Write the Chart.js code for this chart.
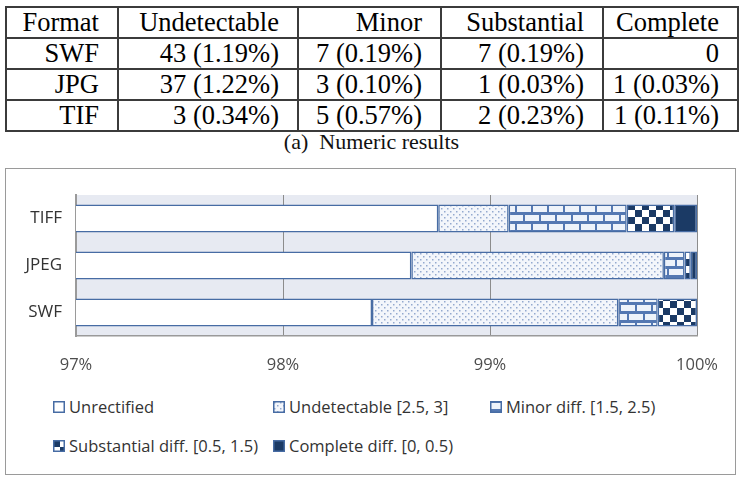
<!DOCTYPE html>
<html>
<head>
<meta charset="utf-8">
<script src="https://cdn.jsdelivr.net/npm/chart.js"></script>
<style>
body { margin: 0; background: #fff; width: 743px; height: 490px; position: relative; overflow: hidden; }
table { position: absolute; left: 5px; top: 6px; width: 732px; border-collapse: collapse; table-layout: fixed;
        font-family: "Liberation Serif", serif; font-size: 26.5px; color: #000; }
td { border: 2px solid #3b3b3b; text-align: right; padding: 0 18px 0 0; height: 29px; line-height: 29px; white-space: nowrap; }
#cap { position: absolute; left: 0; width: 743px; top: 129px; text-align: center;
       font-family: "Liberation Serif", serif; font-size: 22px; color: #111; }
#box { position: absolute; left: 5px; top: 168px; width: 729px; height: 305px; border: 1.5px solid #9a9a9a; }
#wrap { position: absolute; left: 5px; top: 168px; width: 732px; height: 215px; }
.lg { position: absolute; font-family: "Open Sans", sans-serif; font-size: 16.5px; color: #333; white-space: nowrap; line-height: 22px; }
.lg canvas { position: absolute; left: 0; top: 5px; }
.lg span { position: absolute; left: 16px; top: 0; }
</style>
</head>
<body>
<table id="tbl"></table>
<div id="cap">(a)&nbsp; Numeric results</div>
<div id="box"></div>
<div id="wrap"><canvas id="c"></canvas></div>
<div id="legend"></div>
<script>
// table (a)
const tableHeader = ['Format', 'Undetectable', 'Minor', 'Substantial', 'Complete'];
const tableRows = [
    ['SWF', '43 (1.19%)', '7 (0.19%)', '7 (0.19%)', '0'],
    ['JPG', '37 (1.22%)', '3 (0.10%)', '1 (0.03%)', '1 (0.03%)'],
    ['TIF', '3 (0.34%)', '5 (0.57%)', '2 (0.23%)', '1 (0.11%)']
];
const colWidths = [112, 180, 143, 162, 135];

// chart (b)
const categories = ['TIFF', 'JPEG', 'SWF'];
const seriesNames = ['Unrectified', 'Undetectable [2.5, 3]', 'Minor diff. [1.5, 2.5)', 'Substantial diff. [0.5, 1.5)', 'Complete diff. [0, 0.5)'];
const unrectified = [98.75, 98.62, 98.43];
const undetectable = [0.34, 1.22, 1.19];
const minor = [0.57, 0.10, 0.19];
const substantial = [0.23, 0.03, 0.19];
const complete = [0.11, 0.03, 0];
const xMin = 97, xMax = 100;

const tbl = document.getElementById('tbl');
let html = '<colgroup>' + colWidths.map(w => '<col style="width:' + w + 'px">').join('') + '</colgroup>';
html += '<tr>' + tableHeader.map(h => '<td>' + h + '</td>').join('') + '</tr>';
tableRows.forEach(r => { html += '<tr>' + r.map(c => '<td>' + c + '</td>').join('') + '</tr>'; });
tbl.innerHTML = html;

const navy = '#1b3a65';
const edge = '#476ca4';

function makeTile(w, h, draw) {
    const t = document.createElement('canvas');
    t.width = w; t.height = h;
    draw(t.getContext('2d'));
    return t;
}
const dotTile = makeTile(6, 6, g => {
    g.fillStyle = '#f3f6fb'; g.fillRect(0, 0, 6, 6);
    g.fillStyle = '#94a9cf';
    g.fillRect(1, 1, 1.5, 1.5); g.fillRect(4, 4, 1.5, 1.5);
});
const brickTile = makeTile(16, 18, g => {
    g.fillStyle = '#5478b2'; g.fillRect(0, 0, 16, 18);
    g.fillStyle = '#eef3fa';
    g.fillRect(0, 2, 14, 6);
    g.fillRect(-8, 11, 14, 6); g.fillRect(8, 11, 14, 6);
});
const checkTile = makeTile(14, 14, g => {
    g.fillStyle = '#ffffff'; g.fillRect(0, 0, 14, 14);
    g.fillStyle = navy;
    g.fillRect(0, 0, 7, 7); g.fillRect(7, 7, 7, 7);
});

const c = document.getElementById('c');
const ctx = c.getContext('2d');
const fills = [
    '#ffffff',
    ctx.createPattern(dotTile, 'repeat'),
    ctx.createPattern(brickTile, 'repeat'),
    ctx.createPattern(checkTile, 'repeat'),
    navy
];
const values = [unrectified, undetectable, minor, substantial, complete];

const plotBg = {
    id: 'plotBg',
    beforeDraw(chart) {
        const a = chart.chartArea, g = chart.ctx;
        g.save();
        g.fillStyle = '#e7eaf2';
        g.fillRect(a.left, a.top, a.right - a.left, a.bottom - a.top);
        g.restore();
    }
};

new Chart(ctx, {
    type: 'bar',
    data: {
        labels: categories,
        datasets: seriesNames.map((name, i) => ({
            label: name,
            data: values[i],
            backgroundColor: fills[i],
            borderColor: edge,
            borderWidth: 1.5,
            borderSkipped: false,
            categoryPercentage: 1,
            barPercentage: 0.6,
            clip: { left: 0, top: 0, right: 2, bottom: 0 }
        }))
    },
    options: {
        indexAxis: 'y',
        responsive: true,
        maintainAspectRatio: false,
        animation: false,
        layout: { padding: { top: 27, right: 40, left: 0, bottom: 0 } },
        plugins: { legend: { display: false }, tooltip: { enabled: false } },
        scales: {
            x: {
                stacked: true,
                min: xMin, max: xMax,
                ticks: { stepSize: 1, padding: 19, color: '#4d4d4d', font: { family: 'Open Sans', size: 16.5 },
                         callback: v => v + '%' },
                grid: { color: '#8c8c8c', drawTicks: false },
                border: { color: '#9a9a9a', width: 1.5 },
                afterFit(s) { s.height = 47; }
            },
            y: {
                stacked: true,
                ticks: { padding: 14, color: '#333', font: { family: 'Open Sans', size: 17 } },
                grid: { display: false, drawTicks: false },
                border: { color: '#9a9a9a', width: 2 },
                afterFit(s) { s.width = 71; }
            }
        }
    },
    plugins: [plotBg]
});

// legend laid out on a grid like the original
const legendPos = [[53, 396], [273, 396], [490, 396], [53, 435], [273, 435]];
const legendEl = document.getElementById('legend');
seriesNames.forEach((name, i) => {
    const d = document.createElement('div');
    d.className = 'lg';
    d.style.left = legendPos[i][0] + 'px';
    d.style.top = legendPos[i][1] + 'px';
    const sw = document.createElement('canvas');
    sw.width = 12; sw.height = 12;
    const g = sw.getContext('2d');
    g.fillStyle = i === 0 ? '#ffffff' : i === 4 ? navy : g.createPattern([null, dotTile, brickTile, checkTile][i], 'repeat');
    g.fillRect(0, 0, 12, 12);
    g.strokeStyle = edge; g.lineWidth = 1.5;
    g.strokeRect(0.75, 0.75, 10.5, 10.5);
    const s = document.createElement('span');
    s.textContent = name;
    d.appendChild(sw); d.appendChild(s);
    legendEl.appendChild(d);
});
</script>
</body>
</html>
